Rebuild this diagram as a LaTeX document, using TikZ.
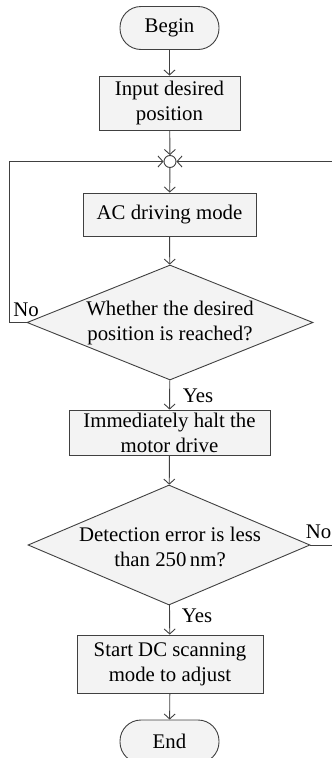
\documentclass[tikz,border=0pt]{standalone}
\usepackage{fontspec}
\setmainfont{Liberation Serif}
\usetikzlibrary{arrows.meta,shapes.geometric}
\definecolor{linec}{HTML}{404040}
\definecolor{boxfill}{HTML}{F3F3F3}
\begin{document}
\begin{tikzpicture}[x=1pt,y=-1pt,
  every node/.style={font=\fontsize{20.8}{25}\selectfont},
  box/.style={draw=linec, fill=boxfill, line width=0.9pt, inner sep=0pt, align=center},
  term/.style={box, rounded corners=21pt},
  dia/.style={draw=linec, fill=boxfill, line width=0.9pt, diamond, inner sep=0pt},
  lbl/.style={inner sep=0pt, align=center},
  arr/.style={draw=linec, line width=0.9pt, -{Straight Barb[length=5pt,width=11pt]}},
  ln/.style={draw=linec, line width=0.9pt}]
\useasboundingbox (0,0) rectangle (332,758);
\clip (0,0) rectangle (332,758);
\node[term, minimum width=99pt, minimum height=43pt] (begin) at (169.5,28) {Begin};
\node[box, minimum width=141pt, minimum height=54pt] (input) at (169.5,103) {Input desired\\position};
\node[draw=linec, fill=white, line width=0.9pt, circle, minimum size=12pt, inner sep=0pt] (j) at (170,161.5) {};
\node[box, minimum width=173pt, minimum height=43pt] (ac) at (169.5,214.5) {AC driving mode};
\node[dia, minimum width=286pt, minimum height=115pt] (d1) at (170,322.5) {};
\node[lbl] (d1t) at (170,323) {Whether the desired\\position is reached?};
\node[box, minimum width=201pt, minimum height=45pt] (halt) at (169.5,432.5) {Immediately halt the\\motor drive};
\node[dia, minimum width=282pt, minimum height=120pt] (d2) at (169,545) {};
\node[lbl] (d2t) at (170,547) {Detection error is less\\than 250\,nm?};
\node[box, minimum width=186pt, minimum height=58pt] (start) at (170,664) {Start DC scanning\\mode to adjust};
\node[term, minimum width=99pt, minimum height=43pt] (end) at (169.5,741.5) {End};
\coordinate (lc) at (9.5,322.5);
\coordinate (rc) at (345,545);
\draw[arr] (begin) -- (input);
\draw[arr] (input) -- (j);
\draw[arr] (j) -- (ac);
\draw[arr] (ac) -- (d1);
\draw[arr] (d1) -- (halt);
\draw[arr] (halt) -- (d2);
\draw[arr] (d2) -- (start);
\draw[arr] (start) -- (end);
\draw[arr] (d1.west) -- (lc) |- (j.west);
\draw[arr] (d2.east) -- (rc) |- (j.east);
\node[lbl] (no1) at (26,310) {No};
\node[lbl] (yes1) at (198,396) {Yes};
\node[lbl] (no2) at (318.5,532) {No};
\node[lbl] (yes2) at (197,616) {Yes};
\end{tikzpicture}
\end{document}
